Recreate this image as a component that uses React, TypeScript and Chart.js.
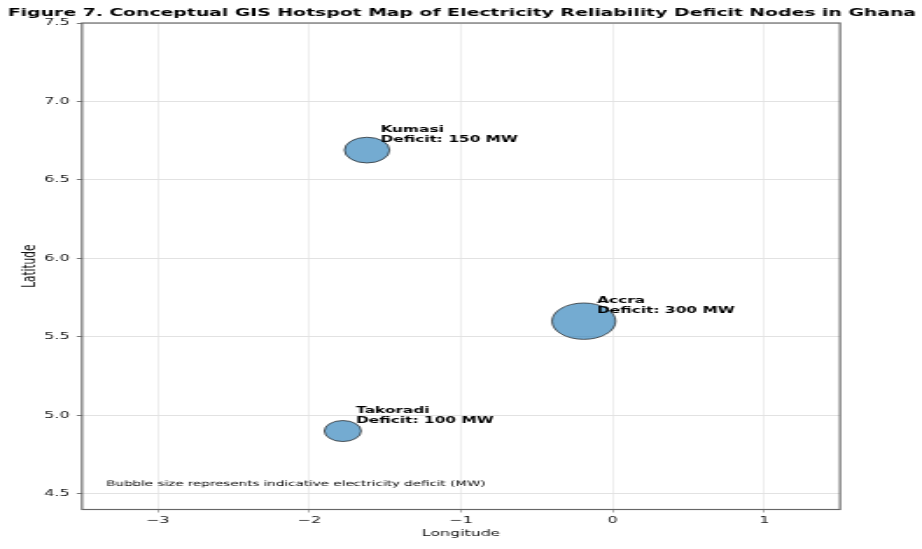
import React, { useEffect, useRef } from "react";
import { Chart, registerables } from "chart.js";

Chart.register(...registerables);

// ---- data ----
const cities = ["Accra", "Kumasi", "Takoradi"];
const longitudes = [-0.19, -1.62, -1.78];
const latitudes = [5.6, 6.69, 4.9];
const deficitsMW = [300, 150, 100];
const xTicks = [-3, -2, -1, 0, 1];
const yTicks = [4.5, 5.0, 5.5, 6.0, 6.5, 7.0, 7.5];

const TITLE =
  "Figure 7. Conceptual GIS Hotspot Map of Electricity Reliability Deficit Nodes in Ghana";
const NOTE = "Bubble size represents indicative electricity deficit (MW)";
const X_LABEL = "Longitude";
const Y_LABEL = "Latitude";

// ---- geometry / style ----
const PAGE_W = 922;
const PAGE_H = 549;
const SQUASH = 1.75;
const CW = Math.round(PAGE_W / SQUASH);
const SX = PAGE_W / CW;
const FONT = "'DejaVu Sans', sans-serif";
const RADIUS_K = 1.05;

const fmtX = (v: number) => (v < 0 ? "\u2212" + Math.abs(v) : String(v));

const decorPlugin = {
  id: "decor",
  beforeDatasetsDraw(chart: any) {
    const { ctx, chartArea: a } = chart;
    ctx.save();
    ctx.strokeStyle = "#666";
    ctx.lineWidth = 1.15;
    ctx.strokeRect(a.left, a.top, a.right - a.left, a.bottom - a.top);
    ctx.restore();
  },
  afterDatasetsDraw(chart: any) {
    const { ctx, chartArea: a } = chart;
    const meta = chart.getDatasetMeta(0);
    ctx.save();
    ctx.fillStyle = "#000";
    ctx.font = `bold 8.8px ${FONT}`;
    ctx.textAlign = "left";
    ctx.textBaseline = "alphabetic";
    meta.data.forEach((el: any, i: number) => {
      const x = el.x + 7.6;
      ctx.fillText(cities[i], x, el.y - 18);
      ctx.fillText(`Deficit: ${deficitsMW[i]} MW`, x, el.y - 8.5);
    });
    // footnote in axes fraction
    ctx.font = `7.7px ${FONT}`;
    ctx.fillStyle = "#000";
    ctx.textBaseline = "middle";
    ctx.fillText(
      NOTE,
      a.left + 0.032 * (a.right - a.left),
      a.bottom - 0.052 * (a.bottom - a.top)
    );
    // title
    ctx.font = `bold 10.75px ${FONT}`;
    ctx.textAlign = "center";
    ctx.textBaseline = "alphabetic";
    ctx.fillStyle = "#000";
    ctx.fillText(TITLE, chart.width / 2 + 0.5, 15.5);
    ctx.restore();
  },
};

export default function App() {
  const ref = useRef<HTMLCanvasElement | null>(null);

  useEffect(() => {
    if (!ref.current) return;
    const chart = new Chart(ref.current, {
      type: "bubble",
      data: {
        datasets: [
          {
            label: "Deficit",
            data: longitudes.map((x, i) => ({
              x,
              y: latitudes[i],
              r: RADIUS_K * Math.sqrt(deficitsMW[i]),
            })),
            backgroundColor: "rgba(31,119,180,0.62)",
            borderColor: "rgba(30,30,30,0.9)",
            borderWidth: 0.8,
          },
        ],
      },
      options: {
        animation: false,
        responsive: false,
        devicePixelRatio: 1,
        layout: {
          padding: { top: 23, left: 0, right: CW - 840 / SX, bottom: 0 },
        },
        plugins: {
          legend: { display: false },
          tooltip: { enabled: false },
          title: { display: false },
        },
        scales: {
          x: {
            type: "linear",
            min: -3.5,
            max: 1.5,
            afterBuildTicks: (s: any) => {
              s.ticks = xTicks.map((v) => ({ value: v }));
            },
            afterFit: (s: any) => {
              s.height = PAGE_H - 509.5;
            },
            ticks: {
              font: { family: FONT, size: 9.2 },
              color: "#222",
              padding: 3,
              callback: (v: any) => fmtX(Number(v)),
            },
            grid: {
              color: "#e2e2e2",
              lineWidth: 0.6,
              tickColor: "#777",
              tickLength: 3,
            },
            border: { display: false },
            title: {
              display: true,
              text: X_LABEL,
              color: "#111",
              font: { family: FONT, size: 9 },
              padding: { top: 0, bottom: 10 },
            },
          },
          y: {
            type: "linear",
            min: 4.4,
            max: 7.5,
            afterBuildTicks: (s: any) => {
              s.ticks = yTicks.map((v) => ({ value: v }));
            },
            afterFit: (s: any) => {
              s.width = 82 / SX;
            },
            ticks: {
              font: { family: FONT, size: 9.2 },
              color: "#222",
              padding: 4,
              callback: (v: any) => Number(v).toFixed(1),
            },
            grid: {
              color: "#e2e2e2",
              lineWidth: 1,
              tickColor: "#777",
              tickLength: 3,
            },
            border: { display: false },
            title: {
              display: true,
              text: Y_LABEL,
              color: "#111",
              font: { family: FONT, size: 10.5 },
              padding: { top: 11, bottom: 0 },
            },
          },
        },
      },
      plugins: [decorPlugin],
    });
    return () => chart.destroy();
  }, []);

  return (
    <div
      style={{
        position: "absolute",
        left: 0,
        top: 0,
        width: PAGE_W,
        height: PAGE_H,
        overflow: "hidden",
        background: "#fff",
      }}
    >
      <canvas
        ref={ref}
        width={CW}
        height={PAGE_H}
        style={{
          display: "block",
          transform: `scaleX(${SX})`,
          transformOrigin: "0 0",
        }}
      />
    </div>
  );
}
